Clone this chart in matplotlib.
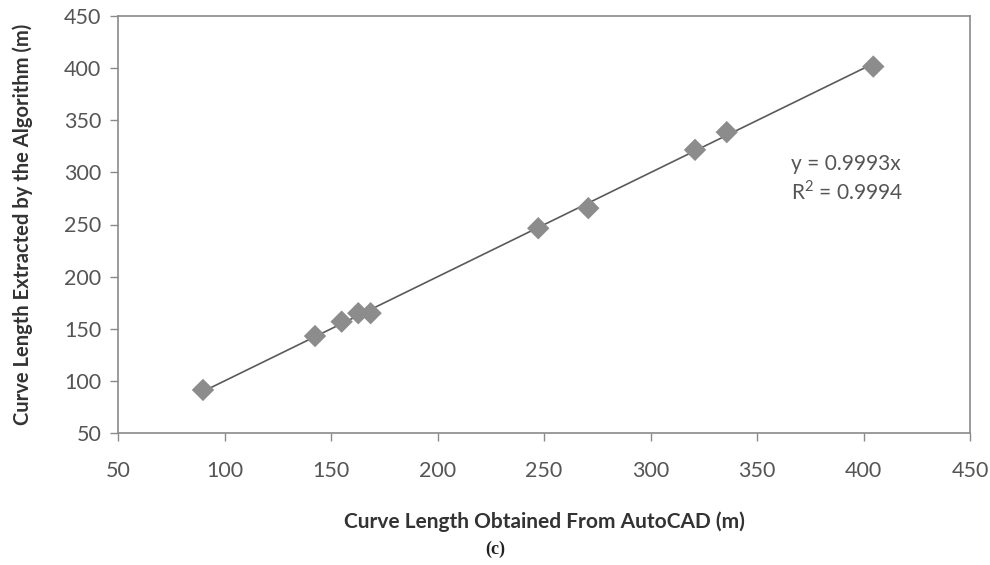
import matplotlib
matplotlib.use("Agg")
import matplotlib.pyplot as plt
import numpy as np

autocad = [89.9, 142.5, 155.0, 162.8, 168.6, 247.3, 270.8, 320.9, 335.8, 404.6]
algorithm = [91.3, 143.0, 156.8, 164.9, 164.9, 246.4, 265.7, 321.6, 338.6, 401.5]
slope = 0.9993
eq_text = "y = 0.9993x"
r2_text = "R$^2$ = 0.9994"
xticks = [50, 100, 150, 200, 250, 300, 350, 400, 450]
yticks = [50, 100, 150, 200, 250, 300, 350, 400, 450]

plt.rcParams['font.family'] = ['Lato', 'DejaVu Sans']
plt.rcParams['mathtext.fontset'] = 'custom'
plt.rcParams['mathtext.rm'] = 'Lato'

fig = plt.figure(figsize=(9.9, 5.65), dpi=100)
ax = fig.add_axes([118/990, 1-433/565, (970-118)/990, (433-16)/565])

xs = np.array([min(autocad), max(autocad)])
ax.plot(xs, slope*xs, color='#5a5a5a', lw=1.2, zorder=2)
ax.scatter(autocad, algorithm, marker='D', s=130, color='#8c8c8c', edgecolors='none', zorder=3)

ax.set_xlim(50, 450)
ax.set_ylim(50, 450)
ax.set_xticks(xticks)
ax.set_yticks(yticks)
ax.tick_params(axis='both', labelsize=15.5, colors='#8a8a8a', labelcolor='#555555', length=6, width=1)
ax.tick_params(axis='x', pad=14)
ax.tick_params(axis='y', pad=6)
for s in ax.spines.values():
    s.set_color('#8a8a8a')
    s.set_linewidth(1.2)

ax.set_xlabel("Curve Length Obtained From AutoCAD (m)", fontsize=15, fontweight='bold', color='#333333', labelpad=22)
ax.set_ylabel("Curve Length Extracted by the Algorithm (m)", fontsize=14.5, fontweight='bold', color='#333333', labelpad=22)

ax.text(366, 294, eq_text + "\n" + r2_text, fontsize=15, color='#555555', va='center', ha='left', linespacing=1.3)

fig.text(0.5, 1-549/565, "(c)", ha='center', va='center', fontsize=13, fontweight='bold', family='Liberation Serif', color='#222222')

fig.savefig("out.png", dpi=100)
